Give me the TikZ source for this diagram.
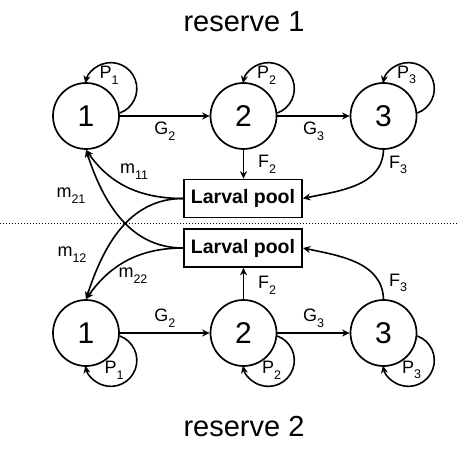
\documentclass[tikz,border=0pt]{standalone}
\usepackage{fontspec}
\setmainfont{Liberation Sans}
\usetikzlibrary{arrows.meta}

% letter with a lowered small index, as in G2, F3, m11
\newcommand\lsub[2]{#1\raisebox{-0.6ex}{\fontsize{12.5}{12.5}\selectfont #2}}

\tikzset{
  stage/.style={circle, draw, line width=1.7pt, minimum size=66pt, inner sep=0pt,
    font=\fontsize{30}{30}\selectfont},
  pool/.style={rectangle, draw, line width=1.7pt, minimum width=118pt, minimum height=38pt,
    inner sep=0pt, font=\bfseries\fontsize{19.5}{19.5}\selectfont},
  flow/.style={-{Stealth[length=7.5pt,width=7pt]}, line width=1.6pt},
  lbl/.style={font=\fontsize{18}{18}\selectfont, inner sep=1pt},
  title/.style={font=\fontsize{29}{29}\selectfont}
}

\begin{document}
\begin{tikzpicture}[x=1pt,y=1pt]
  \useasboundingbox (0,0) rectangle (458,448);

  % reserve 1
  \node[title] (r1) at (244,426) {reserve 1};
  \node[stage] (a1) at (86,332) {1};
  \node[stage] (a2) at (243.5,332) {2};
  \node[stage] (a3) at (383.5,332) {3};
  \node[pool] (p1) at (243,249.5) {Larval pool};

  % reserve 2
  \node[title] (r2) at (244,21) {reserve 2};
  \node[stage] (b1) at (86,115) {1};
  \node[stage] (b2) at (243.5,115) {2};
  \node[stage] (b3) at (383.5,115) {3};
  \node[pool] (p2) at (243,200) {Larval pool};

  \draw[line width=1pt, dotted] (0,225) -- (458,225);

  % staying in a stage
  \foreach \s in {1,2,3} {
    \draw[flow] (a\s.5) arc[start angle=-70, end angle=168, radius=26];
    \draw[flow] (b\s.-5) arc[start angle=70, end angle=-168, radius=26];
  }
  \node[lbl] (pa1) at (109,373) {\lsub{P}{1}};
  \node[lbl] (pa2) at (266.5,373) {\lsub{P}{2}};
  \node[lbl] (pa3) at (406.5,373) {\lsub{P}{3}};
  \node[lbl] (pb1) at (114,78) {\lsub{P}{1}};
  \node[lbl] (pb2) at (271.5,78) {\lsub{P}{2}};
  \node[lbl] (pb3) at (411.5,78) {\lsub{P}{3}};

  % growth
  \draw[flow] (a1) -- (a2) node[lbl, midway, below=4pt] (ga2) {\lsub{G}{2}};
  \draw[flow] (a2) -- (a3) node[lbl, midway, below=4pt] (ga3) {\lsub{G}{3}};
  \draw[flow] (b1) -- (b2) node[lbl, midway, above=4pt] (gb2) {\lsub{G}{2}};
  \draw[flow] (b2) -- (b3) node[lbl, midway, above=4pt] (gb3) {\lsub{G}{3}};

  % fecundity
  \draw[flow] (a2.south) -- (p1.north -| a2.south);
  \node[lbl] (fa2) at (267,284) {\lsub{F}{2}};
  \draw[flow] (a3.south) to[out=-92, in=12] (p1.east);
  \node[lbl] (fa3) at (398,283) {\lsub{F}{3}};
  \draw[flow] (b2.north) -- (p2.south -| b2.north);
  \node[lbl] (fb2) at (267,163) {\lsub{F}{2}};
  \draw[flow] (b3.north) to[out=92, in=-12] (p2.east);
  \node[lbl] (fb3) at (398,165) {\lsub{F}{3}};

  % larval exchange
  \draw[flow] (p1.west) to[out=180, in=-55] (a1.south);
  \draw[flow] (p2.west) to[out=180, in=-72] (a1.south);
  \draw[flow] (p1.west) to[out=180, in=72] (b1.north);
  \draw[flow] (p2.west) to[out=180, in=55] (b1.north);
  \node[lbl] (m11) at (134,276) {\lsub{m}{11}};
  \node[lbl] (m21) at (71,252) {\lsub{m}{21}};
  \node[lbl] (m12) at (72,193) {\lsub{m}{12}};
  \node[lbl] (m22) at (133,172) {\lsub{m}{22}};
\end{tikzpicture}
\end{document}
